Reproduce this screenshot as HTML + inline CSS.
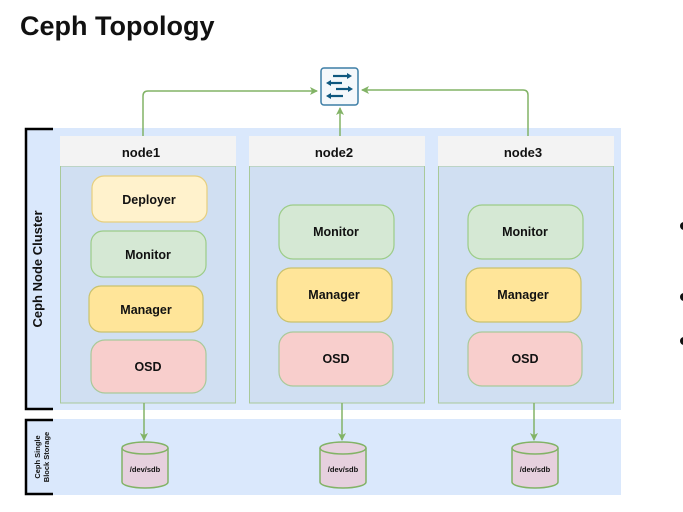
<!DOCTYPE html>
<html><head><meta charset="utf-8"><style>
html,body{margin:0;padding:0;background:#fff;width:683px;height:512px;overflow:hidden}
svg{display:block}
text{font-family:"Liberation Sans",Arial,sans-serif;font-weight:bold;fill:#111}
</style></head><body>
<svg width="683" height="512" viewBox="0 0 683 512" xmlns="http://www.w3.org/2000/svg">
<defs>
<marker id="ah" markerWidth="8" markerHeight="8" refX="7" refY="4" orient="auto" markerUnits="userSpaceOnUse">
<path d="M0,0 L8,4 L0,8 L2,4 Z" fill="#82b366"/></marker>
</defs>
<text x="20" y="35" font-size="27" style="font-family:'Liberation Sans',sans-serif">Ceph Topology</text>

<!-- backgrounds -->
<rect x="25" y="128" width="596" height="282" fill="#dae8fc"/>
<rect x="25" y="419" width="596" height="76" fill="#dae8fc"/>
<!-- brackets -->
<path d="M53,129 H26 V409 H53" fill="none" stroke="#000" stroke-width="2.5"/>
<path d="M53,420 H26 V494 H53" fill="none" stroke="#000" stroke-width="2.5"/>
<text transform="translate(42,269) rotate(-90)" font-size="13" text-anchor="middle">Ceph Node Cluster</text>
<text transform="translate(40,457) rotate(-90)" font-size="7.5" text-anchor="middle">Ceph Single</text>
<text transform="translate(49,457) rotate(-90)" font-size="7.5" text-anchor="middle">Block Storage</text>

<!-- nodes -->
<g stroke="#a9c99a" stroke-width="1">
<rect x="60.5" y="166" width="175" height="237" fill="#d0dff2"/>
<rect x="249.5" y="166" width="175" height="237" fill="#d0dff2"/>
<rect x="438.5" y="166" width="175" height="237" fill="#d0dff2"/>
</g>
<rect x="60" y="136" width="176" height="30" fill="#f3f3f3"/>
<rect x="249" y="136" width="176" height="30" fill="#f3f3f3"/>
<rect x="438" y="136" width="176" height="30" fill="#f3f3f3"/>
<text x="141" y="157" font-size="13" text-anchor="middle">node1</text>
<text x="334" y="157" font-size="13" text-anchor="middle">node2</text>
<text x="523" y="157" font-size="13" text-anchor="middle">node3</text>

<!-- boxes -->
<g stroke-width="1.2">
<rect x="92" y="176" width="115" height="46" rx="12" fill="#fff2cc" stroke="#e6cf7e"/>
<rect x="91" y="231" width="115" height="46" rx="12" fill="#d5e8d4" stroke="#9ccc88"/>
<rect x="89" y="286" width="114" height="46" rx="12" fill="#ffe599" stroke="#c9c26e"/>
<rect x="91" y="340" width="115" height="53" rx="14" fill="#f8cecc" stroke="#a9c99a"/>

<rect x="279" y="205" width="115" height="54" rx="14" fill="#d5e8d4" stroke="#9ccc88"/>
<rect x="277" y="268" width="115" height="54" rx="14" fill="#ffe599" stroke="#c9c26e"/>
<rect x="279" y="332" width="114" height="54" rx="14" fill="#f8cecc" stroke="#a9c99a"/>

<rect x="468" y="205" width="115" height="54" rx="14" fill="#d5e8d4" stroke="#9ccc88"/>
<rect x="466" y="268" width="115" height="54" rx="14" fill="#ffe599" stroke="#c9c26e"/>
<rect x="468" y="332" width="114" height="54" rx="14" fill="#f8cecc" stroke="#a9c99a"/>
</g>
<g font-size="12.5" text-anchor="middle">
<text x="149" y="204">Deployer</text>
<text x="148" y="259">Monitor</text>
<text x="146" y="314">Manager</text>
<text x="148" y="371">OSD</text>
<text x="336" y="236">Monitor</text>
<text x="334" y="299">Manager</text>
<text x="336" y="363">OSD</text>
<text x="525" y="236">Monitor</text>
<text x="523" y="299">Manager</text>
<text x="525" y="363">OSD</text>
</g>

<!-- switch -->
<rect x="321" y="68" width="37" height="37" rx="3" fill="#f5f8fb" stroke="#3d7ea6" stroke-width="1.5"/>
<g stroke="#10587f" stroke-width="2.2" fill="#10587f">
<line x1="333" y1="76" x2="349" y2="76"/><path d="M352,76 L347,73 L347,79Z" stroke="none"/>
<line x1="330" y1="83" x2="342" y2="83"/><path d="M326,83 L331,80 L331,86Z" stroke="none"/>
<line x1="336" y1="89" x2="350" y2="89"/><path d="M353,89 L348,86 L348,92Z" stroke="none"/>
<line x1="330" y1="96" x2="343" y2="96"/><path d="M326,96 L331,93 L331,99Z" stroke="none"/>
</g>

<!-- connectors -->
<g fill="none" stroke="#82b366" stroke-width="1.5">
<path d="M143,136 V96 Q143,91 148,91 H317" marker-end="url(#ah)"/>
<path d="M340,136 V108" marker-end="url(#ah)"/>
<path d="M528,136 V95 Q528,90 523,90 H362" marker-end="url(#ah)"/>
<path d="M144,403 V440" marker-end="url(#ah)"/>
<path d="M342,403 V440" marker-end="url(#ah)"/>
<path d="M534,403 V440" marker-end="url(#ah)"/>
</g>

<!-- cylinders -->
<g fill="#e6d0de" stroke="#82b366" stroke-width="1.5">
<path d="M122,448 V482 A23,6 0 0 0 168,482 V448"/>
<ellipse cx="145" cy="448" rx="23" ry="6"/>
<path d="M320,448 V482 A23,6 0 0 0 366,482 V448"/>
<ellipse cx="343" cy="448" rx="23" ry="6"/>
<path d="M512,448 V482 A23,6 0 0 0 558,482 V448"/>
<ellipse cx="535" cy="448" rx="23" ry="6"/>
</g>
<g font-size="7.5" text-anchor="middle">
<text x="145" y="472">/dev/sdb</text>
<text x="343" y="472">/dev/sdb</text>
<text x="535" y="472">/dev/sdb</text>
</g>

<!-- bullets -->
<circle cx="684" cy="226" r="4" fill="#111"/>
<circle cx="684" cy="297" r="4" fill="#111"/>
<circle cx="684" cy="341" r="4" fill="#111"/>
</svg>
</body></html>
